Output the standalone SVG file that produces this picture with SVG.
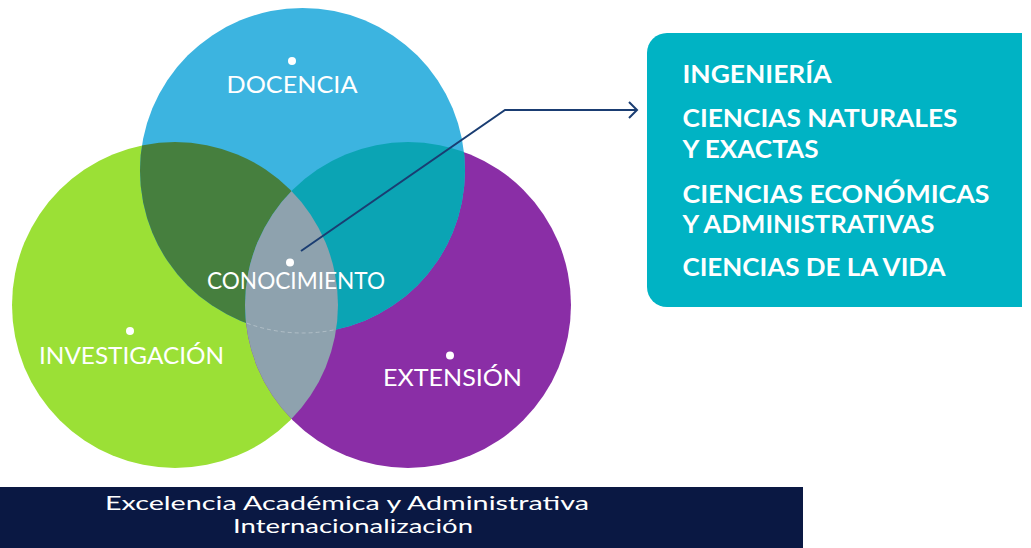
<svg xmlns="http://www.w3.org/2000/svg" width="1031" height="548" viewBox="0 0 1031 548">
  <style>
    .lbl { font-family: Lato, "Noto Sans", "Liberation Sans", sans-serif; font-size: 24px; fill: #ffffff; text-anchor: middle; }
    .box { font-family: Lato, "Noto Sans", "Liberation Sans", sans-serif; font-size: 25px; font-weight: 700; fill: #ffffff; }
    .band { font-family: Lato, "Noto Sans", "Liberation Sans", sans-serif; font-size: 19px; fill: #ffffff; text-anchor: middle; }
    .dot { fill: #ffffff; }
    .conn { fill: none; stroke: #1a3d72; stroke-width: 2; }
  </style>
  <defs>
    <clipPath id="cBlue"><circle cx="302.5" cy="170.5" r="162.5"/></clipPath>
    <clipPath id="cGreen"><circle cx="175" cy="305" r="163"/></clipPath>
    <clipPath id="cPurple"><circle cx="408" cy="305" r="163"/></clipPath>
    <marker id="chev" markerUnits="userSpaceOnUse" markerWidth="20" markerHeight="20" refX="10" refY="10" orient="auto">
      <path d="M2,2 L10,10 L2,18" fill="none" stroke="#1a3d72" stroke-width="2"/>
    </marker>
  </defs>
  <rect width="1031" height="548" fill="#ffffff"/>

  <g id="investigacion">
    <circle cx="175" cy="305" r="163" fill="#9be036"/>
  </g>
  <g id="extension">
    <circle cx="408" cy="305" r="163" fill="#8a2ea6"/>
  </g>
  <g id="docencia">
    <circle cx="302.5" cy="170.5" r="162.5" fill="#3cb4e0"/>
  </g>
  <g id="overlaps">
    <circle cx="175" cy="305" r="163" fill="#467f3e" clip-path="url(#cBlue)"/>
    <circle cx="408" cy="305" r="163" fill="#0ba4b4" clip-path="url(#cBlue)"/>
    <circle cx="408" cy="305" r="163" fill="#8ea2ae" clip-path="url(#cGreen)"/>
    <g clip-path="url(#cGreen)">
      <circle cx="302.5" cy="170.5" r="162.5" fill="none" stroke="#ffffff" stroke-opacity="0.3" stroke-width="1" stroke-dasharray="4 3" clip-path="url(#cPurple)"/>
    </g>
  </g>
  <g id="conocimiento">
    <circle class="dot" cx="290" cy="262.5" r="4"/>
    <text class="lbl" x="296" y="289" textLength="178" lengthAdjust="spacingAndGlyphs">CONOCIMIENTO</text>
  </g>
  <g id="docencia-label">
    <circle class="dot" cx="292" cy="61" r="4"/>
    <text class="lbl" x="292" y="93" textLength="131" lengthAdjust="spacingAndGlyphs">DOCENCIA</text>
  </g>
  <g id="investigacion-label">
    <circle class="dot" cx="130" cy="331" r="4"/>
    <text class="lbl" x="131.5" y="364" textLength="185" lengthAdjust="spacingAndGlyphs">INVESTIGACIÓN</text>
  </g>
  <g id="extension-label">
    <circle class="dot" cx="450" cy="355.5" r="4"/>
    <text class="lbl" x="452.5" y="386" textLength="139" lengthAdjust="spacingAndGlyphs">EXTENSIÓN</text>
  </g>

  <g id="connectors">
    <polyline class="conn" points="301,251 505,110 637,110" marker-end="url(#chev)"/>
  </g>

  <g id="areas">
    <path d="M1022,33 H667 A20,20 0 0 0 647,53 V287 A20,20 0 0 0 667,307 H1022 Z" fill="#00b3c4"/>
    <text class="box" x="682.5" y="83" textLength="149" lengthAdjust="spacingAndGlyphs">INGENIERÍA</text>
    <text class="box" x="682.5" y="127" textLength="275" lengthAdjust="spacingAndGlyphs">CIENCIAS NATURALES</text>
    <text class="box" x="682.5" y="158" textLength="136" lengthAdjust="spacingAndGlyphs">Y EXACTAS</text>
    <text class="box" x="682.5" y="202.5" textLength="307" lengthAdjust="spacingAndGlyphs">CIENCIAS ECONÓMICAS</text>
    <text class="box" x="682.5" y="233" textLength="252" lengthAdjust="spacingAndGlyphs">Y ADMINISTRATIVAS</text>
    <text class="box" x="682.5" y="275.5" textLength="263" lengthAdjust="spacingAndGlyphs">CIENCIAS DE LA VIDA</text>
  </g>

  <g id="band">
    <rect x="0" y="487" width="803" height="61" fill="#0a1843"/>
    <text class="band" x="347" y="510" textLength="484" lengthAdjust="spacingAndGlyphs">Excelencia Académica y Administrativa</text>
    <text class="band" x="353" y="533" textLength="240" lengthAdjust="spacingAndGlyphs">Internacionalización</text>
  </g>
</svg>
